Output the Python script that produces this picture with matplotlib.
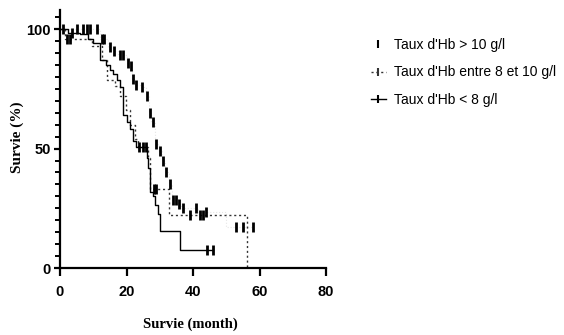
import matplotlib.pyplot as plt
from matplotlib.lines import Line2D
from matplotlib.ticker import MultipleLocator

# Kaplan-Meier steps: (time of drop, survival after drop)
hb_high_t = [0, 12, 14.5, 16, 17.5, 20, 21, 21.8, 22.6, 24.3, 26, 26.7, 27.5, 28.5,
             29.7, 30.7, 31.5, 32.7, 33.6, 35.5, 36.5, 41.5, 50, 58]
hb_high_s = [100, 96, 92.6, 90.7, 89, 86, 84.7, 79, 76.7, 75.7, 72, 65, 61, 52,
             49, 45, 40, 35, 28.5, 27, 25.3, 23.4, 17.3, 17.3]
hb_high_cens_t = [5, 7, 8, 9, 11, 12.5, 13.2, 15, 16.3, 18, 19, 20.5, 21.3, 22, 22.9,
                  24.6, 26.3, 27, 27.9, 28.9, 30, 31, 31.8, 33, 33.9, 34.9, 35.9, 36.9,
                  40.9, 43.9, 52.9, 54.9, 57.9]

hb_mid_t = [0, 1.5, 9.5, 12.5, 14, 16.5, 18, 19.9, 21, 22.5, 23.5, 26.5, 27.1, 32.9, 56.1]
hb_mid_s = [100, 96, 93, 87, 78.5, 76, 72, 66, 60, 54, 50.5, 46, 33, 22, 0]
hb_mid_cens_t = [2, 3, 28.4, 28.9, 39.1, 42.1, 43.1]

hb_low_t = [0, 2.5, 6, 8.5, 10, 12, 13.8, 15, 16, 17, 18, 18.9, 20, 21, 22, 23,
            26.2, 26.6, 27.1, 28.1, 28.6, 29.6, 30.1, 36.1, 46.1]
hb_low_s = [100, 98.5, 97.8, 95.7, 94.3, 87, 85, 82.8, 81.4, 78.5, 75.7, 64, 61, 58,
            53, 50.5, 46, 42, 32, 30, 26.3, 22.7, 15.6, 7.7, 7.7]
hb_low_cens_t = [1, 3.5, 23.8, 25.0, 26.0, 44.1, 46.1]

labels = ["Taux d'Hb > 10 g/l", "Taux d'Hb entre 8 et 10 g/l", "Taux d'Hb < 8 g/l"]

sans = ['Liberation Sans', 'DejaVu Sans']
serif = ['Liberation Serif', 'DejaVu Serif']


def km_value(times, surv, t):
    val = surv[0]
    for ti, si in zip(times, surv):
        if ti <= t:
            val = si
    return val


fig = plt.figure(figsize=(5.64, 3.35), dpi=100)
ax = fig.add_axes([60 / 564, 67 / 335, 266 / 564, 258 / 335])

ax.step(hb_high_t, hb_high_s, where='post', color='#e6e6e6', lw=0.8, ls=':')
ax.step(hb_mid_t, hb_mid_s, where='post', color='#333333', lw=1.0, ls=(0, (1.5, 2)))
ax.step(hb_low_t, hb_low_s, where='post', color='black', lw=1.0)

for times, surv, cens in [(hb_high_t, hb_high_s, hb_high_cens_t),
                          (hb_mid_t, hb_mid_s, hb_mid_cens_t),
                          (hb_low_t, hb_low_s, hb_low_cens_t)]:
    ax.plot(cens, [km_value(times, surv, c) for c in cens], '|', color='black',
            ms=7, mew=2)

ax.set_xlim(0, 80)
ax.set_ylim(0, 108)
ax.set_xticks([0, 20, 40, 60, 80])
ax.set_yticks([0, 50, 100])
ax.yaxis.set_minor_locator(MultipleLocator(5))
for s in ['top', 'right']:
    ax.spines[s].set_visible(False)
for s in ['left', 'bottom']:
    ax.spines[s].set_linewidth(1.6)
ax.tick_params(axis='x', which='major', length=6, width=1.6, pad=6)
ax.tick_params(axis='y', which='major', length=4.5, width=1.6, pad=2)
ax.tick_params(which='minor', length=3.5, width=1.4)
for lab in ax.get_xticklabels() + ax.get_yticklabels():
    lab.set_family(sans)
    lab.set_fontweight('bold')
    lab.set_fontsize(10.5)

ax.set_xlabel('Survie (month)', family=serif, fontweight='bold', fontsize=10.5)
ax.set_ylabel('Survie (%)', family=serif, fontweight='bold', fontsize=11)
ax.xaxis.set_label_coords(130 / 266, -50 / 258)
ax.yaxis.set_label_coords(-36 / 266, 0.5 + 2 / 258)

handles = [
    Line2D([], [], color='black', ls='none', marker='|', ms=6, mew=1.5),
    Line2D([], [], color='#333333', ls=(0, (1.5, 2)), lw=1.0, marker='|', ms=6, mew=1.5),
    Line2D([], [], color='black', lw=1.0, marker='|', ms=6, mew=1.5),
]
fig.legend(handles, labels, loc='upper left', bbox_to_anchor=(358 / 564, 1 - 25 / 335),
           frameon=False, handlelength=1.1, handletextpad=0.6, labelspacing=1.0,
           prop={'family': sans, 'size': 10})

fig.savefig('out.png', dpi=100)
